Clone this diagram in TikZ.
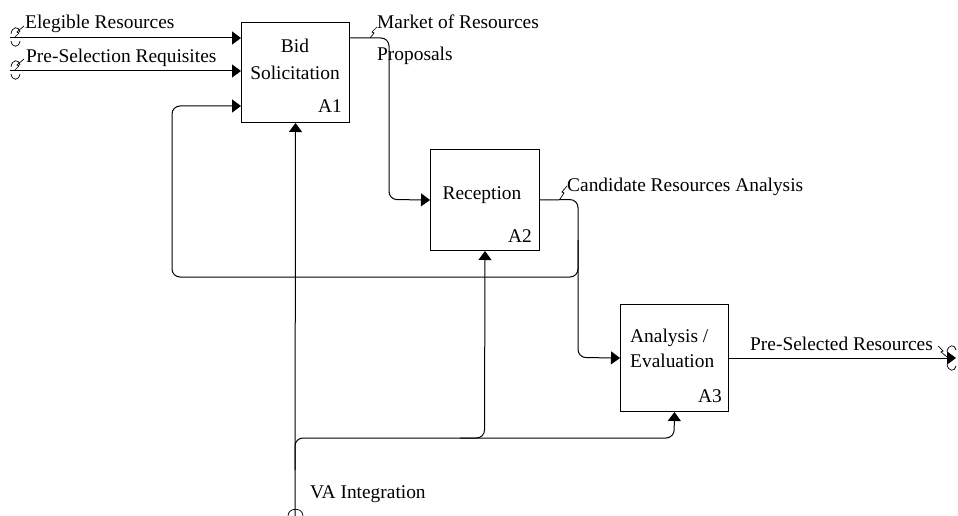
\documentclass[tikz,border=0pt]{standalone}
\usepackage{fontspec}
\setmainfont{Liberation Serif}
\usetikzlibrary{arrows.meta}
\begin{document}
\begin{tikzpicture}[x=1pt,y=-1pt,
  box/.style={draw, line width=1pt, inner sep=0pt, anchor=north west},
  lbl/.style={inner sep=0pt, font=\fontsize{19.4}{23}\selectfont},
  flow/.style={line width=1pt, rounded corners=8pt},
  tip/.style={-{Triangle[length=9pt,width=13pt]}},
  mk/.style={line width=0.7pt}]
\useasboundingbox (0,0) rectangle (958,516);
% boxes
\node[box, minimum width=108pt, minimum height=100pt] (A1) at (241,22) {};
\node[box, minimum width=109pt, minimum height=101pt] (A2) at (430,149) {};
\node[box, minimum width=108pt, minimum height=107pt] (A3) at (620,304) {};
% box texts
\node[lbl, anchor=base] (t1a) at (295,53) {Bid};
\node[lbl, anchor=base] (t1b) at (295,80) {Solicitation};
\node[lbl, anchor=base east] (n1) at (342,113) {A1};
\node[lbl, anchor=base] (t2) at (482,199) {Reception};
\node[lbl, anchor=base east] (n2) at (532,242) {A2};
\node[lbl, anchor=base west] (t3a) at (630,342) {Analysis /};
\node[lbl, anchor=base west] (t3b) at (630,367) {Evaluation};
\node[lbl, anchor=base east] (n3) at (722,402) {A3};
% arrow labels
\node[lbl, anchor=base west] (l1) at (25,29) {Elegible Resources};
\node[lbl, anchor=base west] (l2) at (26,63) {Pre-Selection Requisites};
\node[lbl, anchor=base west] (l3) at (377,29) {Market of Resources};
\node[lbl, anchor=base west] (l4) at (377,61) {Proposals};
\node[lbl, anchor=base west] (l5) at (567,191) {Candidate Resources Analysis};
\node[lbl, anchor=base west] (l6) at (750,350) {Pre-Selected Resources};
\node[lbl, anchor=base west] (l7) at (310,498) {VA Integration};
% free ends
\coordinate (s1) at (10,38);
\coordinate (s2) at (10,71);
\coordinate (fb) at (172,106);
\coordinate (s4) at (295,516);
\coordinate (e3) at (956,358);
% connectors
\draw[flow,tip] (s1) -- (s1 -| A1.west);
\draw[flow,tip] (s2) -- (s2 -| A1.west);
\draw[flow,tip] (s1 -| A1.east) -- (389,38) -- (389,199.5) -- (A2.west);
\draw[flow,tip] (A2.east) -- (578,199.5) -- (578,357.5) -- (A3.west);
\draw[flow,tip] (578,240) -- (578,277) -- (172,277) -- (fb) -- (fb -| A1.west);
\draw[flow,tip] (A3.east) -- (e3);
\draw[flow,tip] (s4) -- (A1.south);
\draw[flow,tip] (295,470) -- (295,438) -- (674,438) -- (A3.south);
\draw[flow,tip] (460,438) -- (484.5,438) -- (A2.south);
% tunnel marks and label squiggles
\foreach \yy in {0,33}{
  \draw[mk] (11,34+\yy) .. controls (12,26+\yy) and (19,26+\yy) .. (20,32+\yy);
  \draw[mk] (11,41+\yy) .. controls (12,48+\yy) and (19,48+\yy) .. (20,41+\yy);
  \draw[mk] (14,38+\yy) -- (19,33+\yy) -- (17,32+\yy) -- (24,26+\yy);
}
\draw[mk] (947,352) .. controls (948,344) and (955,344) .. (956,350);
\draw[mk] (947,364) .. controls (948,372) and (955,372) .. (956,366);
\draw[mk] (938,346) -- (943,351) -- (941,352) -- (947,357);
\draw[mk] (288,516) .. controls (288,507) and (303,507) .. (303,516);
\draw[mk] (370,38) -- (374,33) -- (372,32) -- (377,27);
\draw[mk] (560,199) -- (564,193) -- (562,192) -- (567,186);
\end{tikzpicture}
\end{document}
